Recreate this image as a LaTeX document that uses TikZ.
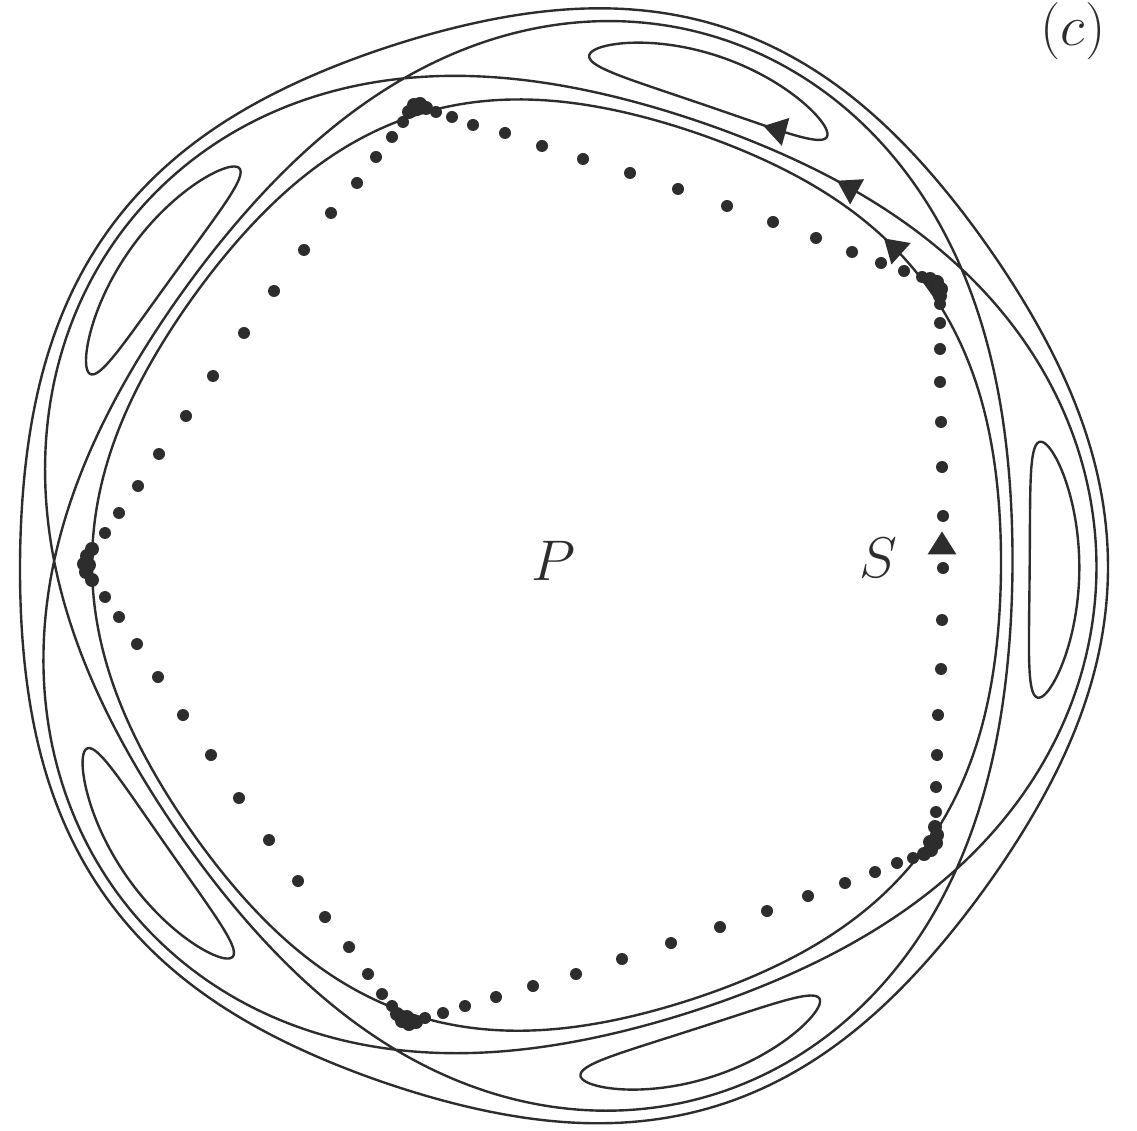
\documentclass[tikz,border=0pt]{standalone}
\usetikzlibrary{calc}
\definecolor{ink}{RGB}{45,45,45}
\newcommand{\arrowtri}[3]{\fill[ink] ($(#1,#2)+(#3:13.5)$) -- ($(#1,#2)+(#3+123:17.2)$) -- ($(#1,#2)+(#3-123:17.2)$) -- cycle;}
\begin{document}
\begin{tikzpicture}[x=0.01cm,y=-0.01cm,
  curve/.style={draw=ink,line width=0.68pt,line join=round},
  dotm/.style={fill=ink},
  lbl/.style={inner sep=0pt,text=ink,font=\LARGE,scale=0.943},
  declare function={
    rsep(\t)=500.2+42*sin(5*(\t-35.5)/2);
    rinn(\t)=454.5-7.8*cos(5*(\t+0.5));
    rout(\t)=544+9.7*cos(5*(\t+0.5));
    pisl(\s)=ifthenelse(sin(\s)<0,-1,1)*21*sqrt(max(0,2*(cos(72.5*cos(\s))-0.30071)));
  }]
\def\cx{554.3}\def\cy{565.4}\def\ks{1.021}
\useasboundingbox (0,0) rectangle (1137,1131);
\fill[white] (0,0) rectangle (1137,1131);

% outermost rotational curve
\draw[curve] plot[domain=0:360,samples=361] ({\cx+rout(\x)*cos(\x)},{\cy-\ks*rout(\x)*sin(\x)}) -- cycle;
% inner rotational curve
\draw[curve] plot[domain=0:360,samples=361] ({\cx+rinn(\x)*cos(\x)},{\cy-\ks*rinn(\x)*sin(\x)}) -- cycle;
% separatrix (one curve, twice round)
\draw[curve] plot[domain=35.5:755.5,samples=721] ({\cx+rsep(\x)*cos(\x)},{\cy-\ks*rsep(\x)*sin(\x)}) -- cycle;
% islands
\foreach \o in {-0.5,71.5,143.5,215.5,287.5}{
  \draw[curve] plot[domain=0:360,samples=181]
    ({\cx+(500.2+pisl(\x))*cos(\o+14.5*cos(\x))},{\cy-\ks*(500.2+pisl(\x))*sin(\o+14.5*cos(\x))}) -- cycle;
}

% dotted period orbit: side dots
\foreach \a/\b in {
  105/533,119/513,138/486,159/454,186/416,213/376,244/333,274/291,304/250,331/213,357/183,376/157,392/137,403/122,
  436/112,452/117,473/125,505/133,542/146,583/159,630/173,678/189,727/206,773/222,816/238,852/252,881/263,904/271,922/277,
  940/304,940/323,940/349,940/382,941/422,942/467,943/516,943/568,942/620,941/669,938/715,937/755,936/787,936/812,
  913/858,897/863,875/872,845/883,808/896,767/911,720/927,671/943,622/959,576/974,533/986,496/997,465/1006,443/1013,425/1018,
  392/1006,382/994,368/974,349/947,325/917,298/881,269/840,239/798,211/755,183/715,158/677,137/644,119/617,105/597}
  \fill[dotm] (\a,\b) circle[radius=6];
% clusters at the vertices
\foreach \a/\b in {
  92/549,87/556,84/564,86/572,92/580,89/565,
  409/112,414/105,420/104,426/108,417/109,
  930/279,937/282,941/289,940/296,935/287,
  935/827,937/835,936/843,931/850,924/854,930/842,
  416/1022,409/1024,402/1021,397/1014,407/1017}
  \fill[dotm] (\a,\b) circle[radius=7];

% arrowheads
\arrowtri{776.5}{129.5}{195}
\arrowtri{848.9}{187.3}{209}
\arrowtri{894.1}{247.5}{222}
\arrowtri{942}{545}{270}

% labels
\node[lbl] (P) at (553,561) {$P$};
\node[lbl] (S) at (878,558) {$S$};
\node[lbl] (c) at (1073,31) {$(c)$};
\end{tikzpicture}
\end{document}
